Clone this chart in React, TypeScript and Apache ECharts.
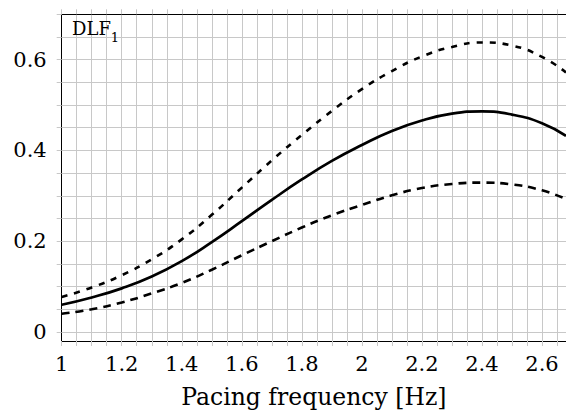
import React, { useEffect, useRef } from "react";
import * as echarts from "echarts";

const freq = [1.0, 1.1, 1.2, 1.3, 1.4, 1.5, 1.6, 1.7, 1.8, 1.9, 2.0, 2.1, 2.2, 2.3, 2.4, 2.5, 2.6, 2.68];
const dlfMean = [0.060, 0.076, 0.096, 0.122, 0.156, 0.198, 0.244, 0.291, 0.336, 0.377, 0.412, 0.443, 0.466, 0.481, 0.486, 0.479, 0.460, 0.432];
const dlfUpper = [0.077, 0.098, 0.125, 0.160, 0.204, 0.258, 0.318, 0.378, 0.434, 0.487, 0.535, 0.575, 0.607, 0.628, 0.638, 0.631, 0.606, 0.572];
const dlfLower = [0.040, 0.050, 0.065, 0.085, 0.108, 0.137, 0.169, 0.200, 0.230, 0.257, 0.280, 0.301, 0.317, 0.326, 0.329, 0.325, 0.312, 0.293];

const xTickLabels = [1, 1.2, 1.4, 1.6, 1.8, 2, 2.2, 2.4, 2.6];
const yTickLabels = [0, 0.2, 0.4, 0.6];
const xGridStep = 0.05;
const yGridStep = 0.05;
const xRange = [1, 2.68];
const yRange = [-0.02, 0.7];

const steps = (from: number, to: number, step: number) => {
  const out: number[] = [];
  const n = Math.floor((to - from) / step + 1e-9);
  for (let i = 0; i <= n; i++) out.push(+(from + i * step).toFixed(4));
  return out;
};

const FONT = "DejaVu Serif";
const GRID = "#c8c8c8";

export default function App() {
  const ref = useRef<HTMLDivElement>(null);
  useEffect(() => {
    if (!ref.current) return;
    const chart = echarts.init(ref.current, null, { renderer: "svg" });
    const xGrid = steps(1, 2.65, xGridStep);
    const yGrid = steps(0, 0.7, yGridStep);
    const pts = (ys: number[]) => freq.map((x, i) => [x, ys[i]]);
    const fmt = (v: number) => String(+(+v).toFixed(1));
    chart.setOption({
      animation: false,
      grid: { left: 61.7, right: 0, top: 14.3, bottom: 77 },
      title: {
        text: "{a|DLF}{b|1}",
        left: 72,
        top: 19,
        padding: 0,
        textStyle: {
          fontWeight: "normal",
          fontFamily: FONT,
          rich: {
            a: { fontFamily: FONT, fontWeight: "normal", fontSize: 18, color: "#000", lineHeight: 25, verticalAlign: "top" },
            b: { fontFamily: FONT, fontWeight: "normal", fontSize: 13, color: "#000", lineHeight: 15, verticalAlign: "bottom" },
          },
        },
      },
      xAxis: [
        {
          type: "value",
          position: "bottom",
          min: xRange[0],
          max: xRange[1],
          axisLine: { show: true, onZero: false, lineStyle: { color: "#000", width: 1 } },
          axisTick: { show: true, inside: false, length: 5, customValues: xGrid, lineStyle: { color: GRID, width: 1 } },
          axisLabel: {
            customValues: xTickLabels,
            formatter: fmt,
            fontFamily: FONT,
            fontSize: 21,
            color: "#000",
            margin: 12,
          },
          splitLine: { show: true, lineStyle: { color: GRID, width: 1 } },
          name: "Pacing frequency [Hz]",
          nameLocation: "middle",
          nameGap: 44,
          nameTextStyle: { fontFamily: FONT, fontSize: 23.5, color: "#000" },
        },
        {
          type: "value",
          position: "top",
          min: xRange[0],
          max: xRange[1],
          axisLine: { show: true, onZero: false, lineStyle: { color: "#000", width: 1 } },
          axisTick: { show: true, inside: false, length: 5, customValues: xGrid, lineStyle: { color: GRID, width: 1 } },
          axisLabel: { show: false },
          splitLine: { show: false },
        },
      ],
      yAxis: {
        type: "value",
        min: yRange[0],
        max: yRange[1],
        axisLine: { show: true, onZero: false, lineStyle: { color: "#000", width: 1 } },
        axisTick: { show: true, inside: false, length: 5, customValues: yGrid, lineStyle: { color: GRID, width: 1 } },
        axisLabel: {
          customValues: yTickLabels,
          formatter: fmt,
          fontFamily: FONT,
          fontSize: 21,
          color: "#000",
          margin: 15,
        },
        splitLine: { show: true, lineStyle: { color: GRID, width: 1 } },
      },
      series: [
        {
          type: "line",
          data: pts(dlfUpper),
          smooth: true,
          showSymbol: false,
          lineStyle: { color: "#000", width: 2.6, type: [6, 7] },
          z: 3,
        },
        {
          type: "line",
          data: pts(dlfMean),
          smooth: true,
          showSymbol: false,
          lineStyle: { color: "#000", width: 2.7, type: "solid" },
          z: 3,
        },
        {
          type: "line",
          data: pts(dlfLower),
          smooth: true,
          showSymbol: false,
          lineStyle: { color: "#000", width: 2.6, type: [8, 6] },
          z: 3,
        },
      ],
    });
    return () => chart.dispose();
  }, []);
  return (
    <div
      ref={ref}
      style={{ position: "absolute", left: 0, top: 0, width: 566, height: 418, background: "#fff" }}
    />
  );
}
